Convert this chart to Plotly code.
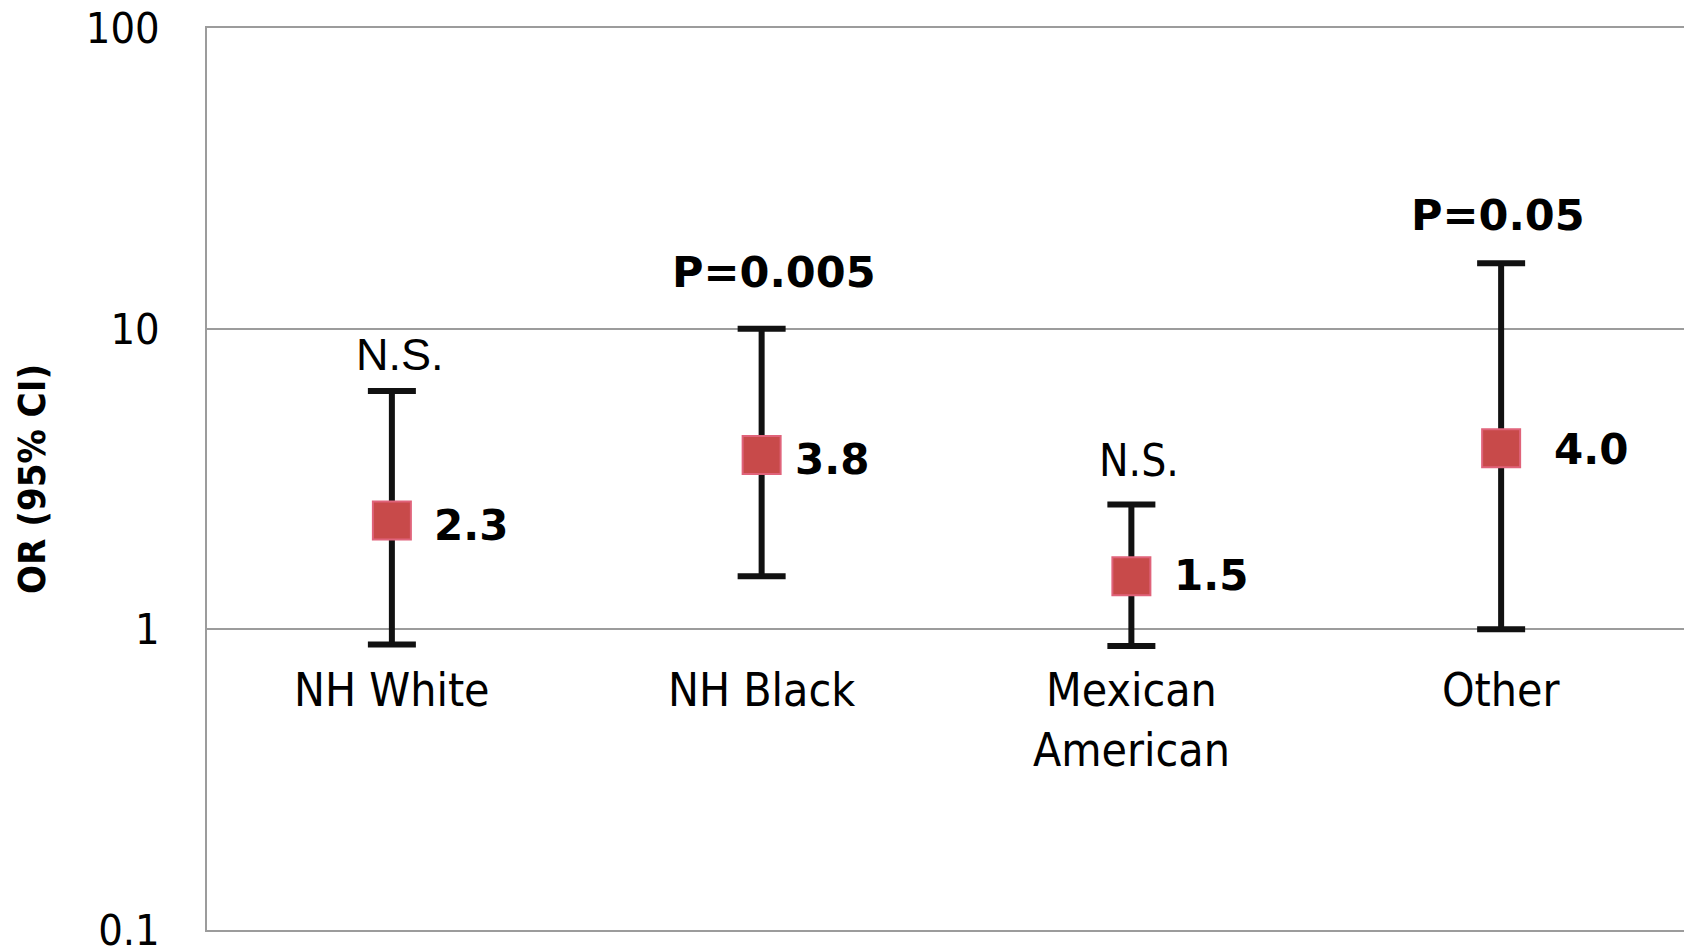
import plotly.graph_objects as go
import math

# ---- data ----
categories = ["NH White", "NH Black", "Mexican<br>American", "Other"]
odds_ratio = [2.3, 3.8, 1.5, 4.0]
ci_lower = [0.89, 1.5, 0.88, 1.0]
ci_upper = [6.2, 10.0, 2.6, 16.5]
value_labels = ["2.3", "3.8", "1.5", "4.0"]
sig_labels = ["N.S.", "P=0.005", "N.S.", "P=0.05"]
y_tick_vals = [0.1, 1, 10, 100]
y_tick_text = ["0.1", "1", "10", "100"]

# ---- styling / layout helpers (not data) ----
W, H = 1684, 944   # page body has an 8px margin
COND = "DejaVu Sans Condensed, DejaVu Sans, sans-serif"
BOLD = "DejaVu Sans, sans-serif"
GRAY = "#9c9c9c"
x_pos = list(range(len(categories)))
value_xshift = [40, 31, 41, 51]
value_yshift = [-5, -4, 1, -1]
sig_xshift = [8, 12, 8, -3]
sig_yshift = [37, 57, 44, 48]
sig_fonts = [
    dict(family="Liberation Sans, Arial, sans-serif", size=45, color="black"),
    dict(family=BOLD, size=43, color="black", weight="bold"),
    dict(family=COND, size=44, color="black"),
    dict(family=BOLD, size=43, color="black", weight="bold"),
]

fig = go.Figure()
fig.add_trace(go.Scatter(
    x=x_pos,
    y=odds_ratio,
    mode="markers",
    marker=dict(symbol="square", size=38, color="#c84a4a",
                line=dict(color="#e0637a", width=2)),
    error_y=dict(
        type="data", symmetric=False,
        array=[u - v for u, v in zip(ci_upper, odds_ratio)],
        arrayminus=[v - l for v, l in zip(odds_ratio, ci_lower)],
        color="#111111", thickness=6, width=24,
    ),
    hoverinfo="skip",
    showlegend=False,
))

annotations = []
for i, c in enumerate(categories):
    # value label
    annotations.append(dict(
        x=x_pos[i], y=math.log10(odds_ratio[i]), xref="x", yref="y",
        text=value_labels[i], showarrow=False, xanchor="left", yanchor="middle",
        xshift=value_xshift[i], yshift=value_yshift[i],
        font=dict(family=BOLD, size=42, color="black", weight="bold"),
    ))
    # significance label
    annotations.append(dict(
        x=x_pos[i], y=math.log10(ci_upper[i]), xref="x", yref="y",
        text=sig_labels[i], showarrow=False, xanchor="center", yanchor="middle",
        xshift=sig_xshift[i], yshift=sig_yshift[i],
        font=sig_fonts[i],
    ))
    # category label (inside plot, below y=1)
    annotations.append(dict(
        x=x_pos[i], y=0, xref="x", yref="y",
        text=c, showarrow=False, xanchor="center", yanchor="top",
        yshift=-32,
        font=dict(family=COND, size=46, color="black"),
    ))

# y-axis title
annotations.append(dict(
    x=0, y=0.5, xref="paper", yref="paper", xanchor="center", yanchor="middle",
    xshift=-175, text="OR (95% CI)", textangle=-90, showarrow=False,
    font=dict(family=COND, size=38, color="black", weight="bold"),
))

fig.update_layout(
    width=W, height=H,
    margin=dict(l=199, r=6, t=20, b=22),
    paper_bgcolor="white", plot_bgcolor="white",
    annotations=annotations,
    xaxis=dict(
        range=[-0.5, len(categories) - 0.5],
        showticklabels=False, showgrid=False, zeroline=False,
        showline=True, linecolor=GRAY, linewidth=1.5, mirror=True,
        fixedrange=True, automargin=False,
    ),
    yaxis=dict(
        type="log", range=[-1.0005, 2.0005],
        tickvals=y_tick_vals, ticktext=y_tick_text,
        tickfont=dict(family=COND, size=43, color="black"),
        ticks="", ticklabelstandoff=37, ticklabeloverflow="allow",
        showgrid=True, gridcolor=GRAY, gridwidth=1.5,
        showline=True, linecolor=GRAY, linewidth=1.5,
        zeroline=False, fixedrange=True, automargin=False,
    ),
)

fig.write_html("out.html")
